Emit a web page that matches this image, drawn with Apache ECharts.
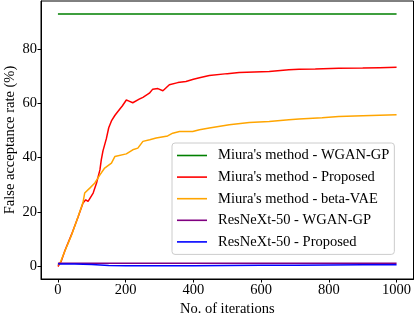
<!DOCTYPE html>
<html>
<head>
<meta charset="utf-8">
<script src="https://cdn.jsdelivr.net/npm/echarts@6/dist/echarts.min.js"></script>
<style>html,body{margin:0;padding:0;background:#fff;}#c{width:416px;height:316px;}</style>
</head>
<body>
<div id="c"></div>
<script>
const seriesNames = ["Miura's method - WGAN-GP", "Miura's method - Proposed", "Miura's method - beta-VAE", "ResNeXt-50 - WGAN-GP", "ResNeXt-50 - Proposed"];
const xTicks = [0, 200, 400, 600, 800, 1000];
const yTicks = [0, 20, 40, 60, 80];

const greenX = [0, 250, 500, 750, 1000];
const greenY = [92.8, 92.8, 92.8, 92.8, 92.8];

const redX = [0, 10, 21, 40, 60, 74, 82, 89, 104, 114, 124, 128, 133, 143, 150, 158, 168, 177, 190, 202, 210, 221, 240, 251, 270, 280, 295, 310, 329, 354, 378, 400, 418, 447, 500, 535, 580, 624, 682, 712, 760, 829, 900, 950, 1000];
const redY = [0, 2, 6, 11.7, 18.4, 23.3, 24.5, 23.9, 27, 30.7, 35.5, 39.2, 42.5, 47, 51, 53.5, 55.5, 57, 59, 61.2, 60.8, 60.2, 61.5, 62.2, 63.7, 65.2, 65.4, 64.6, 66.8, 67.6, 68, 68.8, 69.4, 70.2, 70.9, 71.3, 71.5, 71.7, 72.3, 72.5, 72.6, 72.9, 73.0, 73.1, 73.2];

const orangeX = [0, 6, 20, 40, 60, 74, 79, 94, 109, 124, 138, 158, 168, 173, 202, 221, 236, 251, 271, 290, 324, 339, 359, 398, 418, 447, 506, 565, 624, 682, 712, 780, 829, 900, 1000];
const orangeY = [0.5, 1.2, 5.5, 11.5, 18.5, 23.5, 27, 28.8, 30.7, 33.7, 36.2, 38, 40.4, 40.7, 41.4, 42.9, 43.5, 46, 46.6, 47.2, 48, 49, 49.6, 49.6, 50.3, 50.9, 52.1, 52.9, 53.3, 53.9, 54.2, 54.7, 55.1, 55.4, 55.8];

const purpleX = [0, 250, 500, 750, 1000];
const purpleY = [1.2, 1.2, 1.2, 1.2, 1.2];

const blueX = [0, 50, 100, 150, 200, 300, 400, 500, 600, 700, 800, 900, 1000];
const blueY = [0.9, 0.9, 0.7, 0.4, 0.3, 0.3, 0.3, 0.4, 0.5, 0.5, 0.55, 0.6, 0.6];

const colors = ['#008000', '#ff0000', '#ffa500', '#800080', '#0000ff'];
const xs = [greenX, redX, orangeX, purpleX, blueX];
const ys = [greenY, redY, orangeY, purpleY, blueY];

const font = '"Liberation Serif", "DejaVu Serif", serif';
const chart = echarts.init(document.getElementById('c'), null, {renderer: 'canvas'});

chart.setOption({
  animation: false,
  backgroundColor: '#fff',
  grid: {left: 41, right: 2.5, top: 1, bottom: 37, containLabel: false, outerBoundsMode: 'none',
         show: true, borderColor: '#000', borderWidth: 1, backgroundColor: 'transparent'},
  xAxis: {
    type: 'value', min: -50, max: 1050,
    name: 'No. of iterations', nameLocation: 'middle', nameGap: 23, nameMoveOverlap: false,
    nameTextStyle: {fontFamily: font, fontSize: 14.5, color: '#000'},
    axisLine: {show: true, onZero: false, lineStyle: {color: '#000', width: 1}},
    axisTick: {show: true, length: 3.5, lineStyle: {color: '#000'}, customValues: xTicks},
    axisLabel: {fontFamily: font, fontSize: 14.5, color: '#000', margin: 4, customValues: xTicks,
                formatter: v => String(v), hideOverlap: false},
    splitLine: {show: false}
  },
  yAxis: {
    type: 'value', min: -4.6, max: 97.6,
    name: 'False acceptance rate (%)', nameLocation: 'middle', nameGap: 23, nameMoveOverlap: false,
    nameTextStyle: {fontFamily: font, fontSize: 14.5, color: '#000'},
    axisLine: {show: true, onZero: false, lineStyle: {color: '#000', width: 1}},
    axisTick: {show: true, length: 3.5, lineStyle: {color: '#000'}, customValues: yTicks},
    axisLabel: {fontFamily: font, fontSize: 14.5, color: '#000', margin: 4, customValues: yTicks,
                formatter: v => String(v)},
    splitLine: {show: false}
  },
  legend: {
    orient: 'vertical', left: 172, top: 143,
    padding: [5, 5, 5, 5],
    icon: 'rect',
    itemWidth: 30, itemHeight: 1.6, itemGap: 6.6,
    backgroundColor: 'rgba(255,255,255,0.85)',
    borderColor: '#cccccc', borderWidth: 1, borderRadius: 3,
    textStyle: {fontFamily: font, fontSize: 14.5, color: '#000', padding: [0, 0, 0, 6], lineHeight: 14},
    data: seriesNames
  },
  series: seriesNames.map((n, i) => ({
    name: n, type: 'line', symbol: 'none', showSymbol: false,
    color: colors[i],
    itemStyle: {color: colors[i]},
    lineStyle: {color: colors[i], width: 1.5},
    data: xs[i].map((x, j) => [x, ys[i][j]])
  }))
});
</script>
</body>
</html>
